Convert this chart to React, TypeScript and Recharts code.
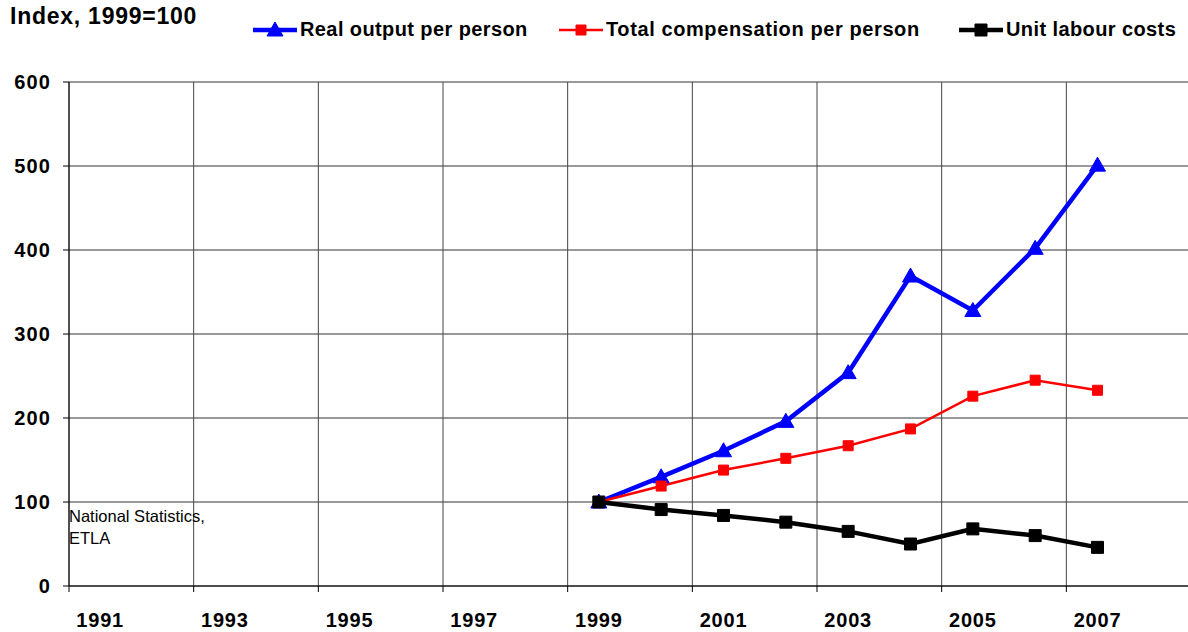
import { CartesianGrid, Line, LineChart, XAxis, YAxis } from 'recharts';

// Categories and series (Index, 1999=100)
const years = [
  '1991', '1992', '1993', '1994', '1995', '1996', '1997', '1998', '1999',
  '2000', '2001', '2002', '2003', '2004', '2005', '2006', '2007', '2008',
];
const realOutput = [null, null, null, null, null, null, null, null, 100, 130, 161, 196, 254, 369, 328, 402, 501, null];
const compensation = [null, null, null, null, null, null, null, null, 100, 119, 138, 152, 167, 187, 226, 245, 233, null];
const unitLabour = [null, null, null, null, null, null, null, null, 100, 91, 84, 76, 65, 50, 68, 60, 46, null];
const yTicks = [0, 100, 200, 300, 400, 500, 600];

const seriesInfo = [
  { key: 'real', label: 'Real output per person', color: '#0000FF', width: 4.5, marker: 'triangle' },
  { key: 'comp', label: 'Total compensation per person', color: '#FF0000', width: 2.5, marker: 'square' },
  { key: 'ulc', label: 'Unit labour costs', color: '#000000', width: 4.5, marker: 'bigsquare' },
];

const data = years.map((year, i) => ({
  year,
  real: realOutput[i],
  comp: compensation[i],
  ulc: unitLabour[i],
}));

// Layout
const CHART_W = 1200;
const CHART_H = 632;
const PLOT_LEFT = 69;
const PLOT_TOP = 82;
const PLOT_BOTTOM = 586;
const PLOT_W = 1122;
const CAT_W = PLOT_W / years.length;
const LEGEND_LEFT = [252, 558, 958];
const FONT = "'Liberation Sans', Arial, Helvetica, sans-serif";

function markerPath(kind: string, cx: number, cy: number) {
  if (kind === 'triangle') return `M${cx},${cy - 8} L${cx + 8},${cy + 6} L${cx - 8},${cy + 6} Z`;
  const h = kind === 'bigsquare' ? 6 : 5;
  return `M${cx - h},${cy - h} H${cx + h} V${cy + h} H${cx - h} Z`;
}

function makeDot(kind: string, color: string) {
  return (props: any) => {
    const { cx, cy, index, value } = props;
    if (cx == null || cy == null || value == null || Number.isNaN(cy)) {
      return <g key={kind + '-' + index} />;
    }
    return <path key={kind + '-' + index} d={markerPath(kind, cx, cy)} fill={color} stroke={color} strokeWidth={1} />;
  };
}

function YearTick(props: any) {
  const { x, y, payload } = props;
  const bx = x - CAT_W / 2;
  return (
    <g>
      <line x1={bx} x2={bx} y1={y} y2={y + 6} stroke="#000" strokeWidth={1} />
      <text
        x={x}
        y={y + 41}
        textAnchor="middle"
        fontFamily={FONT}
        fontWeight="bold"
        fontSize={20}
        letterSpacing={0.8}
        fill="#000"
      >
        {payload.value}
      </text>
    </g>
  );
}

function LegendBlock() {
  return (
    <>
      {seriesInfo.map((s, i) => (
        <div
          key={s.key}
          style={{
            position: 'absolute',
            left: LEGEND_LEFT[i],
            top: 18,
            display: 'flex',
            alignItems: 'center',
            fontFamily: FONT,
            fontWeight: 'bold',
            fontSize: 20,
            letterSpacing: i === 1 ? 0.6 : 0.4,
            color: '#000',
            whiteSpace: 'nowrap',
          }}
        >
          <svg width={46} height={16} style={{ marginRight: 2 }}>
            <line x1={1} x2={45} y1={8} y2={8} stroke={s.color} strokeWidth={s.width} />
            <path d={markerPath(s.marker, 23, 8)} fill={s.color} stroke={s.color} />
          </svg>
          <span>{s.label}</span>
        </div>
      ))}
    </>
  );
}

export default function App() {
  return (
    <div style={{ position: 'absolute', left: 0, top: 0, width: 1188, height: 632, overflow: 'hidden', background: '#fff' }}>
      <LineChart
        width={CHART_W}
        height={CHART_H}
        data={data}
        margin={{ top: PLOT_TOP, right: CHART_W - PLOT_LEFT - PLOT_W, bottom: 0, left: 0 }}
      >
        <CartesianGrid horizontal={true} vertical={false} stroke="#777" strokeWidth={1.5} />
        <CartesianGrid
          horizontal={false}
          vertical={true}
          stroke="#444"
          strokeWidth={1}
          verticalCoordinatesGenerator={({ offset }: any) =>
            years.filter((_, i) => i % 2 === 0).map((_, k) => offset.left + k * 2 * (offset.width / years.length))
          }
        />
        <XAxis
          dataKey="year"
          interval={1}
          padding={{ left: CAT_W / 2, right: CAT_W / 2 }}
          height={CHART_H - PLOT_BOTTOM}
          tickSize={0}
          tickMargin={0}
          tickLine={false}
          axisLine={{ stroke: '#000', strokeWidth: 1 }}
          tick={<YearTick />}
        />
        <YAxis
          domain={[0, 600]}
          ticks={yTicks}
          width={PLOT_LEFT}
          tickSize={6}
          tickMargin={12}
          tickLine={{ stroke: '#000' }}
          axisLine={{ stroke: '#000', strokeWidth: 1 }}
          tick={{ fontFamily: FONT, fontWeight: 'bold', fontSize: 20, fill: '#000', letterSpacing: 1.1 }}
        />
        {seriesInfo.map((s) => (
          <Line
            key={s.key}
            type="linear"
            dataKey={s.key}
            name={s.label}
            stroke={s.color}
            strokeWidth={s.width}
            dot={makeDot(s.marker, s.color)}
            activeDot={false}
            connectNulls={false}
            isAnimationActive={false}
          />
        ))}
      </LineChart>
      <div
        style={{
          position: 'absolute',
          left: 10,
          top: 3,
          fontFamily: FONT,
          fontWeight: 'bold',
          fontSize: 23,
          letterSpacing: 0.75,
          color: '#000',
        }}
      >
        Index, 1999=100
      </div>
      <LegendBlock />
      <div
        style={{
          position: 'absolute',
          left: 69,
          top: 505,
          fontFamily: FONT,
          fontSize: 16.5,
          lineHeight: '22px',
          color: '#000',
        }}
      >
        National Statistics,
        <br />
        ETLA
      </div>
    </div>
  );
}
